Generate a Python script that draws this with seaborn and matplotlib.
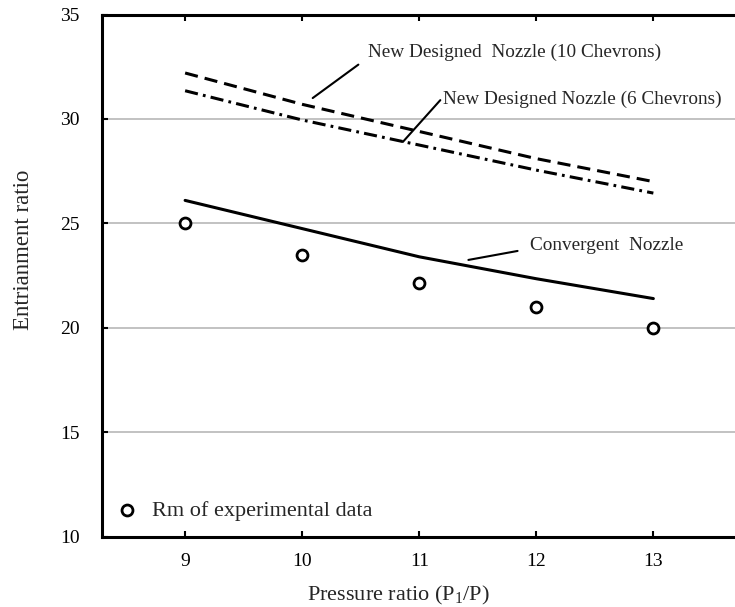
import numpy as np
import pandas as pd
import matplotlib
matplotlib.use("Agg")
import matplotlib.pyplot as plt
import seaborn as sns

# values
pressure_ratio = [9, 10, 11, 12, 13]
experimental = [25.0, 23.5, 22.15, 21.0, 20.0]
convergent = [26.1, 24.75, 23.4, 22.35, 21.4]
chevrons_10 = [32.2, 30.7, 29.4, 28.1, 27.0]
chevrons_6 = [31.35, 29.95, 28.75, 27.55, 26.45]
x_ticks = [9, 10, 11, 12, 13]
y_ticks = [10, 15, 20, 25, 30, 35]

# curve labels: text, text anchor, leader line (from curve to text)
curve_labels = [
    ('New Designed  Nozzle (10 Chevrons)', (10.56, 33.2), ([10.09, 10.48], [31.0, 32.6])),
    ('New Designed Nozzle (6 Chevrons)', (11.2, 30.95), ([10.86, 11.18], [28.9, 30.9])),
    ('Convergent  Nozzle', (11.95, 23.92), ([11.42, 11.84], [23.25, 23.68])),
]


def main():
    sns.set_style("white")
    plt.rcParams['font.family'] = ['Liberation Serif', 'DejaVu Serif']
    plt.rcParams['mathtext.fontset'] = 'custom'
    plt.rcParams['mathtext.rm'] = 'Liberation Serif'

    df = pd.DataFrame({"PR": pressure_ratio, "exp": experimental, "conv": convergent,
                       "c10": chevrons_10, "c6": chevrons_6})

    fig = plt.figure(figsize=(7.35, 6.07), dpi=100)
    W, H = 735.0, 607.0
    left, right, top, bottom = 102, 747, 14.5, 536.7
    ax = fig.add_axes([left / W, 1 - bottom / H, (right - left) / W, (bottom - top) / H])

    for y in [15, 20, 25, 30]:
        ax.axhline(y, color='#bdbdbd', lw=1.3, zorder=0)

    sns.lineplot(data=df, x="PR", y="conv", ax=ax, color='black', lw=2.2)
    sns.lineplot(data=df, x="PR", y="c10", ax=ax, color='black', lw=2.2, dashes=False,
                 linestyle=(0, (4.3, 2.3)))
    sns.lineplot(data=df, x="PR", y="c6", ax=ax, color='black', lw=2.2, dashes=False,
                 linestyle=(0, (4.3, 1.7, 0.9, 1.7)))
    sns.scatterplot(data=df, x="PR", y="exp", ax=ax, marker='o', s=62, facecolor='white',
                    edgecolor='black', linewidth=2.0, label='Rm of experimental data', zorder=5)

    ax.set_xlim(8.29, 13.8)
    ax.set_ylim(10, 35)
    ax.set_xticks(x_ticks)
    ax.set_yticks(y_ticks)
    ax.tick_params(axis='both', direction='in', length=4, width=1.5, labelsize=14,
                   colors='black')
    ax.tick_params(axis='x', top=True, bottom=True, pad=12)
    ax.tick_params(axis='y', left=True, pad=16)
    for side in ['left', 'bottom', 'top']:
        ax.spines[side].set_linewidth(2.2)
        ax.spines[side].set_color('black')
    ax.spines['right'].set_visible(False)

    ax.set_xlabel('Pressure ratio (P$_{\\mathregular{1}}$/P)', fontsize=16)
    ax.set_ylabel('Entrianment ratio', fontsize=16.5)
    ax.xaxis.set_label_coords((398 - left) / (right - left), -(595 - bottom) / (bottom - top))
    ax.xaxis.label.set_va('center')
    ax.yaxis.set_label_coords((24 - left) / (right - left), (bottom - 250) / (bottom - top))
    ax.yaxis.label.set_va('center')

    for text, (tx, ty), (lx, ly) in curve_labels:
        ax.text(tx, ty, text, fontsize=13.9, va='center')
        ax.plot(lx, ly, color='black', lw=1.5)

    ax.legend(loc='lower left', bbox_to_anchor=(0.0217, 0.031), frameon=False, fontsize=16,
              handlelength=1.0, handletextpad=0.62, borderpad=0, borderaxespad=0)

    fig.savefig("out.png", dpi=100)


if __name__ == '__main__':
    main()
